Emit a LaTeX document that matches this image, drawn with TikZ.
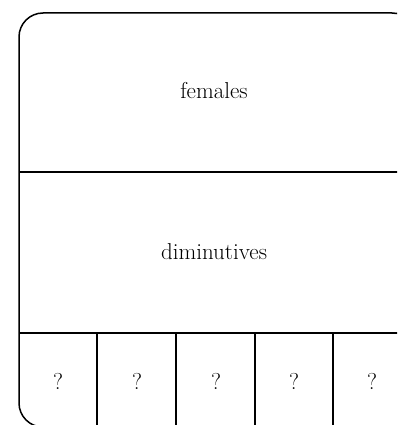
\documentclass[tikz,border=0pt]{standalone}
\begin{document}
\begin{tikzpicture}[x=1pt,y=-1pt,
  boxline/.style={line width=1.5pt,black},
  label/.style={font=\fontsize{23}{27}\selectfont,inner sep=0pt,anchor=base}]
\useasboundingbox (0,0) rectangle (397,425);
\clip (0,0) rectangle (397,425);
\draw[boxline,rounded corners=24pt] (19,13) rectangle (416,427);
\coordinate (l1) at (19,172); \coordinate (r1) at (416,172);
\coordinate (l2) at (19,333); \coordinate (r2) at (416,333);
\draw[boxline] (l1) -- (r1);
\draw[boxline] (l2) -- (r2);
\foreach \i/\x in {1/97,2/176,3/255,4/333}{
  \coordinate (dt\i) at (\x,333);
  \coordinate (db\i) at (\x,427);
  \draw[boxline] (dt\i) -- (db\i);
}
\node[label] (females) at (214,99) {females};
\node[label] (dimin) at (214,259) {diminutives};
\foreach \i/\x in {1/58,2/137,3/216,4/294,5/372}{
  \node[label] (q\i) at (\x,389) {?};
}
\end{tikzpicture}
\end{document}
